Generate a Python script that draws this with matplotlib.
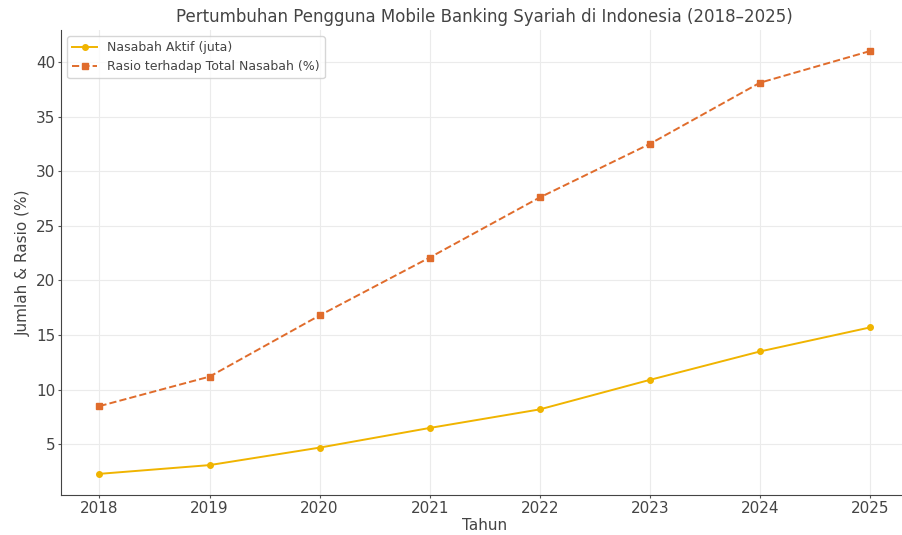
import matplotlib
matplotlib.use("Agg")
import matplotlib.pyplot as plt

tahun = [2018, 2019, 2020, 2021, 2022, 2023, 2024, 2025]
nasabah_aktif = [2.3, 3.1, 4.7, 6.5, 8.2, 10.9, 13.5, 15.7]
rasio_nasabah = [8.5, 11.2, 16.8, 22.1, 27.6, 32.5, 38.1, 41.0]

plt.rcParams['font.family'] = ['DejaVu Sans']
plt.rcParams['text.color'] = '#444444'
plt.rcParams['xtick.color'] = '#444444'
plt.rcParams['ytick.color'] = '#444444'
plt.rcParams['axes.labelcolor'] = '#444444'

fig = plt.figure(figsize=(9.02, 5.35), dpi=100)
# axes extends a little past the right edge, like the reference
ax = fig.add_axes([0.0676, 0.0748, 0.9395, 0.8692])
ax.plot(tahun, nasabah_aktif, marker='o', markersize=4, linestyle='-',
        color='#f0b400', linewidth=1.4, label='Nasabah Aktif (juta)')
ax.plot(tahun, rasio_nasabah, marker='s', markersize=4, linestyle='--',
        color='#e06c2c', linewidth=1.4, label='Rasio terhadap Total Nasabah (%)')

ax.set_title('Pertumbuhan Pengguna Mobile Banking Syariah di Indonesia (2018–2025)', fontsize=12, pad=6)
ax.set_xlabel('Tahun', fontsize=11, labelpad=2)
ax.set_ylabel('Jumlah & Rasio (%)', fontsize=11, labelpad=4)
ax.set_xticks(tahun)
ax.tick_params(labelsize=11, length=2.5, pad=1.5, color='#555555')
ax.grid(True, color='#ebebeb', linewidth=0.8)
ax.set_axisbelow(True)
for s in ['top', 'right']:
    ax.spines[s].set_visible(False)
for s in ['left', 'bottom']:
    ax.spines[s].set_color('#444444')
ax.legend(loc='upper left', fontsize=9, frameon=True)

fig.savefig('out.png', dpi=100)
